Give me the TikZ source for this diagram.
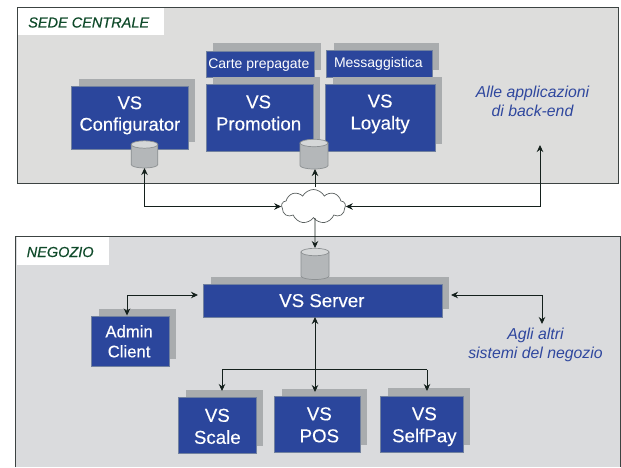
\documentclass[tikz,border=0pt]{standalone}
\usepackage{fontspec}
\setmainfont{Liberation Sans}
\newfontfamily\boxfont[FakeBold=0.25]{Liberation Sans}
\newfontfamily\headfont[FakeBold=0.5]{Liberation Sans}
\usetikzlibrary{shapes.symbols,arrows.meta,calc}
\definecolor{panelT}{HTML}{DDDDDC}
\definecolor{panelB}{HTML}{DADBDD}
\definecolor{vsblue}{HTML}{2B469C}
\definecolor{vsedge}{HTML}{71819F}
\definecolor{shade}{HTML}{A9ACAE}
\definecolor{cyl}{HTML}{B4B7B9}
\definecolor{cyltop}{HTML}{D5D7D8}
\definecolor{cyledge}{HTML}{8C9092}
\definecolor{framec}{HTML}{3C4342}
\definecolor{headgreen}{HTML}{0F4A2A}
\definecolor{linkc}{HTML}{14201C}
\definecolor{noteblue}{HTML}{2F479E}
\tikzset{
  x=1pt,y=-1pt,
  panelframe/.style={draw=framec,line width=0.9pt},
  headbox/.style={fill=white,inner sep=0pt},
  headtext/.style={text=headgreen,inner sep=0pt,font=\headfont\fontsize{14.5}{17}\selectfont\itshape},
  vsbox/.style={draw=vsedge,line width=0.7pt,fill=vsblue,inner sep=0pt},
  vstext/.style={text=white,align=center,inner sep=0pt,font=\boxfont\fontsize{18.7}{22}\selectfont},
  cfgtext/.style={vstext,font=\boxfont\fontsize{18.3}{21.5}\selectfont},
  admtext/.style={vstext,font=\boxfont\fontsize{16.7}{20}\selectfont},
  smalltext/.style={vstext,font=\fontsize{14}{16}\selectfont},
  shadebox/.style={fill=shade,inner sep=0pt},
  dbanchor/.style={inner sep=0pt,outer sep=0pt},
  dbbody/.style={draw=cyledge,line width=0.7pt,fill=cyl},
  dbtop/.style={draw=cyledge,line width=0.7pt,fill=cyltop},
  net/.style={cloud,cloud puffs=9,cloud puff arc=125,aspect=1.9,draw=framec!85,line width=0.7pt,fill=white,inner sep=0pt},
  note/.style={text=noteblue,align=center,inner sep=0pt,font=\fontsize{15.8}{19.5}\selectfont\itshape},
  link/.style={draw=linkc,line width=0.9pt,-{Stealth[length=7pt,width=6.5pt]}},
  bilink/.style={draw=linkc,line width=0.9pt,{Stealth[length=7pt,width=6.5pt]}-{Stealth[length=7pt,width=6.5pt]}},
  plain/.style={draw=linkc,line width=0.9pt}
}
% name, x0, y0, x1, y1, text style, text, text shift (dx,dy)
\newcommand{\blk}[8]{%
  \path let \n1={#2+7.5},\n2={#3-7.5},\n3={#4+7},\n4={#5-7.5} in
    node[shadebox,minimum width=\n3-\n1,minimum height=\n4-\n2,anchor=north west] (#1s) at (\n1,\n2) {};
  \node[vsbox,minimum width={#4-#2},minimum height={#5-#3},anchor=north west] (#1) at (#2,#3) {};
  \node[#6] (#1t) at ($(#1.center)+#8$) {#7};
}
% name, centre x, top y, half width, bottom y : a drum, with a node round it for its anchors
\newcommand{\drum}[5]{%
  \node[dbanchor,minimum width={2*#4},minimum height={#5-#3},anchor=north] (#1) at (#2,#3) {};
  \draw[dbbody] ($(#1.north west)+(0,4)$) -- ($(#1.south west)+(0,-3.5)$)
     arc[start angle=180,end angle=360,x radius=#4 pt,y radius=3.5pt]
     -- ($(#1.north east)+(0,4)$) -- cycle;
  \draw[dbtop] ($(#1.north)+(0,4)$) ellipse[x radius=#4 pt,y radius=3.7pt];
}
\begin{document}
\begin{tikzpicture}
\useasboundingbox (0,0) rectangle (621,467);
\fill[white] (0,0) rectangle (621,467);
% panels
\fill[panelT] (17,7) rectangle (618.5,183);
\draw[panelframe] (17,7) rectangle (618.5,183);
\fill[panelB] (15,236) rectangle (620,467);
\draw[panelframe] (15,467) -- (15,236) -- (620,236) -- (620,467);
\node[headbox,minimum width=146pt,minimum height=27pt,anchor=north west] (sede) at (18,8) {};
\node[headtext] (sedet) at ($(sede.center)+(-2.5,0.8)$) {SEDE CENTRALE};
\node[headbox,minimum width=92pt,minimum height=28pt,anchor=north west] (negozio) at (17,237) {};
\node[headtext] (negoziot) at ($(negozio.center)+(-3,0.8)$) {NEGOZIO};
% top boxes
\blk{carte}{205.5}{50.5}{313.5}{77}{smalltext}{Carte prepagate}{(-1,0.5)}
\blk{mess}{326}{50}{432}{77}{smalltext}{Messaggistica}{(-1,0)}
\blk{config}{71}{86}{188}{149}{cfgtext}{VS\\Configurator}{(0,-2.5)}
\blk{promo}{205.5}{84}{313}{151}{vstext}{VS\\Promotion}{(-1,-5)}
\blk{loyal}{325}{84}{434.5}{151}{vstext}{VS\\Loyalty}{(0,-4)}
\drum{cylA}{144.5}{140.5}{13.3}{168}
\drum{cylB}{314}{139}{14}{169}
\node[note] (backend) at (532.5,101.5) {Alle applicazioni\\di back-end};
\coordinate (backendIn) at (540,145);
% cloud
\node[net,minimum width=64pt,minimum height=34pt] (net) at (313.5,206.5) {};
% bottom boxes
\blk{server}{203}{284}{442}{316.5}{vstext}{VS Server}{(-1,0)}
\drum{cylC}{315}{248}{14}{279.5}
\blk{admin}{91}{316}{168.5}{366}{admtext}{Admin\\Client}{(-1,0)}
\blk{scale}{178}{397}{256}{453}{vstext}{VS\\Scale}{(0,1)}
\blk{pos}{274}{396}{360}{452}{vstext}{VS\\POS}{(2,0.5)}
\blk{selfpay}{380}{395.5}{463}{452}{vstext}{VS\\SelfPay}{(2.5,2.5)}
\node[note] (altri) at (535.5,345) {Agli altri\\sistemi del negozio};
% connectors
\draw[bilink] (cylA.south) |- (net.west);
\draw[link] ($(net.north)+(1.5,-2)$) -- ($(cylB.south)+(1,0)$);
\draw[bilink] (backendIn) |- (net.east);
\draw[link] ($(net.south)+(1.5,0)$) -- (cylC.north);
\coordinate (adminIn) at (127,315.5);
\coordinate (serverL) at (198,295);
\draw[bilink] (adminIn) |- (serverL);
\coordinate (serverR) at (451,295);
\coordinate (altriIn) at (542,324);
\draw[bilink] (serverR) -| (altriIn);
\coordinate (posIn) at (315,392);
\coordinate (serverB) at (315,317);
\draw[bilink] (serverB) -- (posIn);
\coordinate (busL) at (222,369.5);
\coordinate (busR) at (427,369.5);
\coordinate (scaleIn) at (222,391);
\coordinate (selfIn) at (427,391);
\draw[plain] (busL) -- (busR);
\draw[link] (busL) -- (scaleIn);
\draw[link] (busR) -- (selfIn);
\end{tikzpicture}
\end{document}
